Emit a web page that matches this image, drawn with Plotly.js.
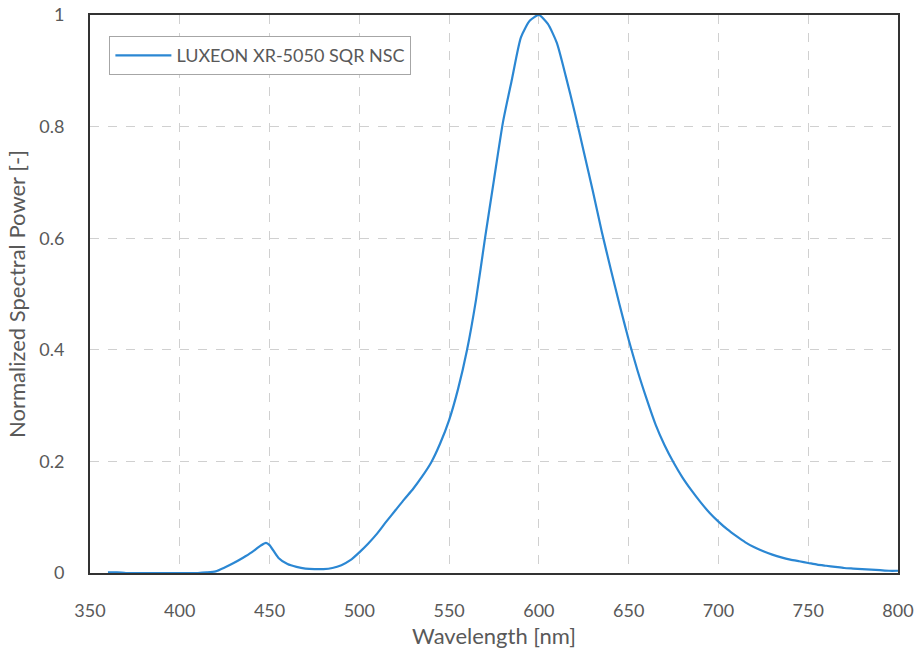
<!DOCTYPE html>
<html>
<head>
<meta charset="utf-8">
<script src="https://cdn.plot.ly/plotly-3.0.1.min.js"></script>
<style>html,body{margin:0;padding:0;background:#fff;}#chart{width:919px;height:654px;}</style>
</head>
<body>
<div id="chart"></div>
<script>
const seriesName = "LUXEON XR-5050 SQR NSC";
const wavelength = [360,365,370,375,380,385,390,395,400,405,410,415,420,425,430,435,440,445,448,450,455,460,465,470,475,480,485,490,495,500,505,510,515,520,525,530,535,540,545,550,555,560,565,570,575,580,585,590,595,600,605,610,615,620,625,630,635,640,645,650,655,660,665,670,675,680,685,690,695,700,705,710,715,720,725,730,735,740,745,750,755,760,765,770,775,780,785,790,795,800];
const power = [0.001,0.001,0.000,0.000,0.000,0.000,0.000,0.000,0.000,0.000,0.000,0.001,0.003,0.010,0.018,0.027,0.037,0.049,0.054,0.050,0.027,0.016,0.011,0.008,0.007,0.007,0.009,0.014,0.023,0.037,0.053,0.071,0.092,0.112,0.132,0.151,0.173,0.198,0.232,0.274,0.330,0.400,0.490,0.600,0.705,0.808,0.885,0.960,0.990,1.000,0.984,0.950,0.890,0.825,0.755,0.685,0.612,0.545,0.480,0.418,0.362,0.312,0.266,0.229,0.198,0.171,0.148,0.127,0.108,0.092,0.078,0.066,0.055,0.046,0.039,0.033,0.028,0.024,0.021,0.018,0.015,0.013,0.011,0.009,0.008,0.007,0.006,0.005,0.004,0.004];
const xTicks = [350,400,450,500,550,600,650,700,750,800];
const yTicks = [0,0.2,0.4,0.6,0.8,1];

const fontFam = "Lato, 'Open Sans', sans-serif";
const trace = {
  x: wavelength, y: power, type: "scatter", mode: "lines", name: seriesName,
  line: {color: "#2b87d3", width: 2.2, shape: "spline", smoothing: 0.6}
};
const layout = {
  width: 919, height: 654,
  margin: {l: 90, r: 21, t: 15, b: 81},
  paper_bgcolor: "#fff", plot_bgcolor: "#fff",
  font: {family: fontFam, color: "#595959", size: 18},
  showlegend: true,
  legend: {x: 0.024, y: 0.962, xanchor: "left", yanchor: "top", bordercolor: "#a6a6a6", borderwidth: 1,
           bgcolor: "#fff", itemwidth: 56, font: {size: 18, color: "#595959", family: fontFam}},
  xaxis: {
    range: [350, 800], tickvals: xTicks, ticktext: xTicks.map(String), ticks: "",
    showgrid: true, gridcolor: "#d0d0d0", griddash: "dash", gridwidth: 1,
    showline: true, linecolor: "#333", linewidth: 2, mirror: true, zeroline: false,
    ticklabelstandoff: 20, tickfont: {size: 18},
    title: {text: "Wavelength [nm]", font: {size: 22, color: "#595959"}, standoff: 9}
  },
  yaxis: {
    range: [0, 1], tickvals: yTicks, ticktext: ["0","0.2","0.4","0.6","0.8","1"], ticks: "",
    showgrid: true, gridcolor: "#d0d0d0", griddash: "dash", gridwidth: 1,
    showline: true, linecolor: "#333", linewidth: 2, mirror: true, zeroline: false,
    ticklabelstandoff: 20, tickfont: {size: 18},
    title: {text: "Normalized Spectral Power [-]", font: {size: 22, color: "#595959"}, standoff: 8}
  }
};
Plotly.newPlot("chart", [trace], layout, {displayModeBar: false, staticPlot: true});
</script>
</body>
</html>
